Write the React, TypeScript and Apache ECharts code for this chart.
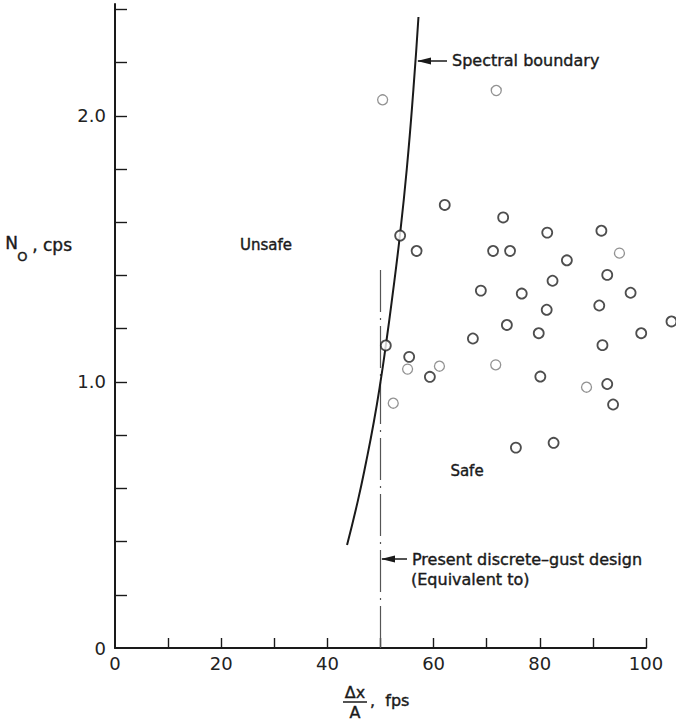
import React, { useEffect, useRef } from "react";
import * as echarts from "echarts";

// ---- data ----
const xTickValues = [10, 20, 30, 40, 50, 60, 70, 80, 90, 100];
const xLabelValues = [0, 20, 40, 60, 80, 100];
const yTickValues = [0.2, 0.4, 0.6, 0.8, 1.0, 1.2, 1.4, 1.6, 1.8, 2.0, 2.2, 2.4];
const yLabelValues = [0, 1, 2];
const yLabelTexts = ["0", "1.0", "2.0"];

const boundaryX = [43.7, 45.7, 47.3, 48.75, 50.0, 51.0, 52.1, 53.65, 54.95, 56.2, 57.15];
const boundaryY = [0.387, 0.55, 0.7, 0.85, 1.0, 1.137, 1.3, 1.55, 1.8, 2.1, 2.371];

const designX = [50, 50];
const designY = [0, 1.43];

const strongPoints: [number, number][] = [
  [62.1, 1.665], [73.1, 1.618], [81.4, 1.561], [91.6, 1.568],
  [56.8, 1.492], [71.2, 1.492], [74.4, 1.492], [85.1, 1.457],
  [92.7, 1.402], [82.4, 1.38], [68.9, 1.343], [76.6, 1.332],
  [97.1, 1.335], [91.2, 1.287], [81.3, 1.271], [104.8, 1.227],
  [73.8, 1.214], [79.8, 1.183], [99.1, 1.183], [67.4, 1.163],
  [91.8, 1.138], [55.4, 1.094], [59.3, 1.019], [80.1, 1.02],
  [92.7, 0.992], [93.8, 0.915], [82.6, 0.771], [75.5, 0.753],
  [53.7, 1.55], [51.0, 1.137],
];
const faintPoints: [number, number][] = [
  [50.4, 2.06], [71.8, 2.095], [95.0, 1.484], [55.1, 1.048],
  [61.1, 1.059], [71.7, 1.064], [88.8, 0.98], [52.4, 0.92],
];

const FONT = "DejaVu Sans";
const INK = "#1a1a1a";

export default function App() {
  const ref = useRef<HTMLDivElement>(null);
  useEffect(() => {
    if (!ref.current) return;
    const chart = echarts.init(ref.current, null, { renderer: "svg" });
    const arrowHead = (tipX: number, y: number) => ({
      type: "polygon",
      shape: { points: [[tipX, y], [tipX + 14, y - 3.5], [tipX + 14, y + 3.5]] },
      style: { fill: INK },
    });
    const bold = { stroke: INK, lineWidth: 0.4 };
    chart.setOption({
      animation: false,
      backgroundColor: "#ffffff",
      grid: { left: 115, right: 30, top: 4, bottom: 73, containLabel: false },
      xAxis: {
        type: "value",
        min: 0,
        max: 100,
        interval: 10,
        axisLine: { show: true, lineStyle: { color: INK, width: 2 } },
        axisTick: {
          show: true,
          inside: true,
          length: 10,
          customValues: xTickValues,
          lineStyle: { color: INK, width: 1.4 },
        },
        axisLabel: {
          margin: 6,
          fontFamily: FONT,
          fontSize: 18,
          color: "#222",
          customValues: xLabelValues,
          formatter: (v: number) => String(v),
        },
        splitLine: { show: false },
      },
      yAxis: {
        type: "value",
        min: 0,
        max: 2.42,
        interval: 0.2,
        axisLine: { show: true, lineStyle: { color: INK, width: 2 } },
        axisTick: {
          show: true,
          inside: true,
          length: 12,
          customValues: yTickValues,
          lineStyle: { color: INK, width: 1.4 },
        },
        axisLabel: {
          margin: 9,
          fontFamily: FONT,
          fontSize: 18,
          color: "#222",
          customValues: yLabelValues,
          formatter: (v: number) => {
            const i = yLabelValues.findIndex((t) => Math.abs(t - v) < 1e-6);
            return i >= 0 ? yLabelTexts[i] : "";
          },
        },
        splitLine: { show: false },
      },
      series: [
        {
          type: "line",
          data: designX.map((x, i) => [x, designY[i]]),
          showSymbol: false,
          symbol: "none",
          lineStyle: { color: "#555", width: 1.2, type: [42, 6, 2, 6] },
          z: 1,
        },
        {
          type: "line",
          data: boundaryX.map((x, i) => [x, boundaryY[i]]),
          smooth: 0.5,
          showSymbol: false,
          symbol: "none",
          lineStyle: { color: INK, width: 2 },
          z: 2,
        },
        {
          type: "scatter",
          data: faintPoints,
          symbol: "circle",
          symbolSize: 10,
          clip: false,
          itemStyle: { color: "#ffffff", borderColor: "#777", borderWidth: 1.3 },
          z: 3,
        },
        {
          type: "scatter",
          data: strongPoints,
          symbol: "circle",
          symbolSize: 10,
          clip: false,
          itemStyle: { color: "#ffffff", borderColor: "#222", borderWidth: 1.8 },
          z: 4,
        },
      ],
      graphic: [
        // y-axis name
        { type: "text", left: 5, top: 234, style: { text: "N", font: `17px '${FONT}'`, fill: INK, ...bold } },
        { type: "text", left: 17, top: 250, style: { text: "O", font: `13px '${FONT}'`, fill: INK, ...bold } },
        { type: "text", left: 32, top: 236, style: { text: ", cps", font: `17px '${FONT}'`, fill: INK, ...bold } },
        // x-axis name
        { type: "text", x: 355, y: 692, style: { text: "Δx", font: `16px '${FONT}'`, fill: INK, align: "center", verticalAlign: "middle", ...bold } },
        { type: "line", shape: { x1: 343, y1: 702, x2: 367, y2: 702 }, style: { stroke: INK, lineWidth: 1.5 } },
        { type: "text", x: 355, y: 712, style: { text: "A", font: `16px '${FONT}'`, fill: INK, align: "center", verticalAlign: "middle", ...bold } },
        { type: "text", x: 370, y: 700, style: { text: ",  fps", font: `16px '${FONT}'`, fill: INK, align: "left", verticalAlign: "middle", ...bold } },
        // region labels
        { type: "text", x: 266, y: 245, style: { text: "Unsafe", font: `15px '${FONT}'`, fill: INK, align: "center", verticalAlign: "middle", ...bold } },
        { type: "text", x: 467, y: 471, style: { text: "Safe", font: `15px '${FONT}'`, fill: INK, align: "center", verticalAlign: "middle", ...bold } },
        // spectral boundary annotation
        { type: "line", shape: { x1: 418, y1: 61, x2: 447, y2: 61 }, style: { stroke: INK, lineWidth: 1.5 } },
        arrowHead(417, 61),
        { type: "text", x: 452, y: 60, style: { text: "Spectral boundary", font: `16px '${FONT}'`, fill: INK, align: "left", verticalAlign: "middle", ...bold } },
        // design annotation
        { type: "line", shape: { x1: 382, y1: 559, x2: 407, y2: 559 }, style: { stroke: INK, lineWidth: 1.5 } },
        arrowHead(381, 559),
        { type: "text", x: 412, y: 559, style: { text: "Present discrete–gust design", font: `16px '${FONT}'`, fill: INK, align: "left", verticalAlign: "middle", ...bold } },
        { type: "text", x: 411, y: 579, style: { text: "(Equivalent to)", font: `16px '${FONT}'`, fill: INK, align: "left", verticalAlign: "middle", ...bold } },
      ],
    });
    return () => chart.dispose();
  }, []);
  return (
    <div
      ref={ref}
      style={{ position: "absolute", left: 0, top: 0, width: 676, height: 721, background: "#fff" }}
    />
  );
}
